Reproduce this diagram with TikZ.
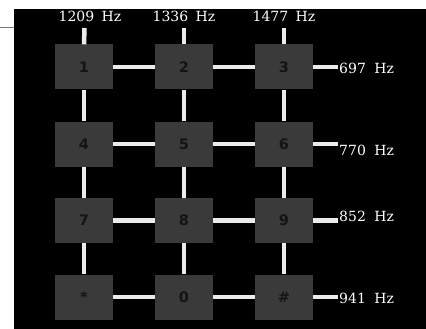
\documentclass[tikz,border=0pt]{standalone}
\usepackage{fontspec}
\setmainfont{DejaVu Serif}
\newfontfamily\keyfont{DejaVu Sans}
\definecolor{boxgray}{HTML}{3A3A3A}
\definecolor{wire}{HTML}{EBEBEB}
\definecolor{keyink}{HTML}{141414}
\definecolor{edgegray}{HTML}{787878}
\tikzset{
  keybox/.style={fill=boxgray, draw=none, minimum width=58pt, minimum height=45pt, inner sep=0pt,
    font=\keyfont\bfseries\fontsize{14.5}{16}\selectfont, text=keyink},
  freq/.style={text=white, inner sep=0pt, font=\fontsize{14}{16}\selectfont},
  wireline/.style={draw=wire, line width=4.5pt, line cap=butt}
}
\begin{document}
\begin{tikzpicture}[x=1pt,y=-1pt]
\useasboundingbox (0,0) rectangle (426,329);
\fill[white] (0,0) rectangle (426,329);
\fill[black] (14,9) rectangle (426,329);
\coordinate (edgeL) at (0,27.5);
\coordinate (edgeR) at (14,27.5);
\draw[edgegray, line width=1.5pt] (edgeL) -- (edgeR);

% keys
\node[keybox] (k1) at (84,67) {1};
\node[keybox] (k2) at (184,67) {2};
\node[keybox] (k3) at (284,67) {3};
\node[keybox] (k4) at (84,144) {4};
\node[keybox] (k5) at (184,144) {5};
\node[keybox] (k6) at (284,144) {6};
\node[keybox] (k7) at (84,220.5) {7};
\node[keybox] (k8) at (184,220.5) {8};
\node[keybox] (k9) at (284,220.5) {9};
\node[keybox] (kstar) at (84,297) {*};
\node[keybox] (k0) at (184,297) {0};
\node[keybox] (khash) at (284,297) {\#};

% column labels
\node[freq] (c1) at (90,16) {1209\hspace{3pt} Hz};
\node[freq] (c2) at (184,16) {1336\hspace{3pt} Hz};
\node[freq] (c3) at (284,16) {1477\hspace{3pt} Hz};
\coordinate (t1) at (84.5,28);
\coordinate (t2) at (184,28);
\coordinate (t3) at (284,28);

% row labels
\node[freq, anchor=west] (r1) at (339,68) {697\hspace{4pt} Hz};
\node[freq, anchor=west] (r2) at (339,150) {770\hspace{4pt} Hz};
\node[freq, anchor=west] (r3) at (339,216) {852\hspace{4pt} Hz};
\node[freq, anchor=west] (r4) at (339,298) {941\hspace{4pt} Hz};
\coordinate (e1) at (338,67);
\coordinate (e2) at (338,144);
\coordinate (e3) at (338,220.5);
\coordinate (e4) at (338,297);

% vertical wires
\draw[wireline] (t1) -- (k1.north);
\draw[wireline] (k1.south) -- (k4.north);
\draw[wireline] (k4.south) -- (k7.north);
\draw[wireline] (k7.south) -- (kstar.north);
\draw[wireline] (t2) -- (k2.north);
\draw[wireline] (k2.south) -- (k5.north);
\draw[wireline] (k5.south) -- (k8.north);
\draw[wireline] (k8.south) -- (k0.north);
\draw[wireline] (t3) -- (k3.north);
\draw[wireline] (k3.south) -- (k6.north);
\draw[wireline] (k6.south) -- (k9.north);
\draw[wireline] (k9.south) -- (khash.north);

% horizontal wires
\draw[wireline] (k1.east) -- (k2.west);
\draw[wireline] (k2.east) -- (k3.west);
\draw[wireline] (k3.east) -- (e1);
\draw[wireline] (k4.east) -- (k5.west);
\draw[wireline] (k5.east) -- (k6.west);
\draw[wireline] (k6.east) -- (e2);
\draw[wireline] (k7.east) -- (k8.west);
\draw[wireline] (k8.east) -- (k9.west);
\draw[wireline] (k9.east) -- (e3);
\draw[wireline] (kstar.east) -- (k0.west);
\draw[wireline] (k0.east) -- (khash.west);
\draw[wireline] (khash.east) -- (e4);
\end{tikzpicture}
\end{document}
